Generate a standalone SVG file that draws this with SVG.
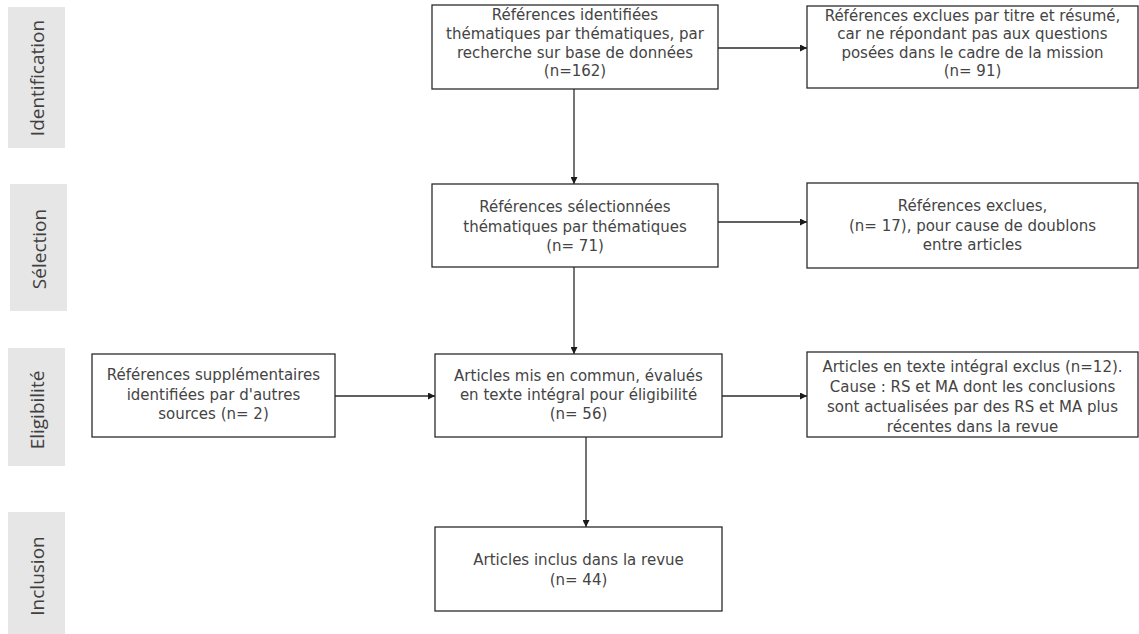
<svg xmlns="http://www.w3.org/2000/svg" width="1139" height="634" viewBox="0 0 1139 634">
<style>
.band{fill:#e6e6e6}
.bandtxt{font-family:"Open Sans","Noto Sans",sans-serif;font-size:19px;fill:#404040;text-anchor:middle}
.box{fill:#fff;stroke:#2b2b2b;stroke-width:1.3}
.t{font-family:"DejaVu Sans","Open Sans",sans-serif;font-size:15px;fill:#444444;text-anchor:middle}
.c{stroke:#2b2b2b;stroke-width:1.3;fill:none;marker-end:url(#ah)}
</style>
<defs>
<marker id="ah" viewBox="0 0 10 10" refX="10" refY="5" markerWidth="7" markerHeight="7" markerUnits="userSpaceOnUse" orient="auto">
<path d="M0,0 L10,5 L0,10 z" fill="#1a1a1a"/>
</marker>
</defs>
<rect width="1139" height="634" fill="#fff"/>
<g id="phase-identification">
<rect class="band" x="8" y="7" width="57" height="141"/>
<text class="bandtxt" transform="translate(37,78) rotate(-90)" dy="0.35em">Identification</text>
</g>
<g id="phase-selection">
<rect class="band" x="10" y="184" width="57" height="127"/>
<text class="bandtxt" transform="translate(39,249) rotate(-90)" dy="0.35em">Sélection</text>
</g>
<g id="phase-eligibilite">
<rect class="band" x="8" y="348" width="57" height="118"/>
<text class="bandtxt" transform="translate(37,410) rotate(-90)" dy="0.35em">Eligibilité</text>
</g>
<g id="phase-inclusion">
<rect class="band" x="8" y="512" width="57" height="122"/>
<text class="bandtxt" transform="translate(37,576) rotate(-90)" dy="0.35em">Inclusion</text>
</g>
<g id="connectors">
<line class="c" x1="718" y1="48" x2="807" y2="48"/>
<line class="c" x1="574" y1="89" x2="574" y2="184"/>
<line class="c" x1="718" y1="222" x2="807" y2="222"/>
<line class="c" x1="574" y1="267" x2="574" y2="354"/>
<line class="c" x1="335" y1="396" x2="435" y2="396"/>
<line class="c" x1="722" y1="396" x2="807" y2="396"/>
<line class="c" x1="586" y1="437" x2="586" y2="527"/>
</g>
<g id="n1">
<rect class="box" x="432" y="5" width="286" height="84"/>
<text class="t" x="575" y="20">Références identifiées</text>
<text class="t" x="575" y="39">thématiques par thématiques, par</text>
<text class="t" x="575" y="58">recherche sur base de données</text>
<text class="t" x="575" y="76">(n=162)</text>
</g>
<g id="n2">
<rect class="box" x="807" y="6" width="331" height="82"/>
<text class="t" x="972.5" y="21">Références exclues par titre et résumé,</text>
<text class="t" x="972.5" y="39">car ne répondant pas aux questions</text>
<text class="t" x="972.5" y="58">posées dans le cadre de la mission</text>
<text class="t" x="972.5" y="76">(n= 91)</text>
</g>
<g id="n3">
<rect class="box" x="432" y="184" width="286" height="83"/>
<text class="t" x="575" y="212">Références sélectionnées</text>
<text class="t" x="575" y="231.5">thématiques par thématiques</text>
<text class="t" x="575" y="251">(n= 71)</text>
</g>
<g id="n4">
<rect class="box" x="807" y="183" width="331" height="85"/>
<text class="t" x="972.5" y="211">Références exclues,</text>
<text class="t" x="972.5" y="230.5">(n= 17), pour cause de doublons</text>
<text class="t" x="972.5" y="250">entre articles</text>
</g>
<g id="n5">
<rect class="box" x="92" y="354" width="243" height="83"/>
<text class="t" x="213.5" y="380">Références supplémentaires</text>
<text class="t" x="213.5" y="400">identifiées par d'autres</text>
<text class="t" x="213.5" y="419">sources (n= 2)</text>
</g>
<g id="n6">
<rect class="box" x="435" y="354" width="287" height="83"/>
<text class="t" x="578.5" y="381">Articles mis en commun, évalués</text>
<text class="t" x="578.5" y="400">en texte intégral pour éligibilité</text>
<text class="t" x="578.5" y="419">(n= 56)</text>
</g>
<g id="n7">
<rect class="box" x="807" y="352" width="331" height="85"/>
<text class="t" x="972.5" y="372">Articles en texte intégral exclus (n=12).</text>
<text class="t" x="972.5" y="392">Cause : RS et MA dont les conclusions</text>
<text class="t" x="972.5" y="412">sont actualisées par des RS et MA plus</text>
<text class="t" x="972.5" y="432">récentes dans la revue</text>
</g>
<g id="n8">
<rect class="box" x="435" y="527" width="287" height="84"/>
<text class="t" x="578.5" y="565">Articles inclus dans la revue</text>
<text class="t" x="578.5" y="585">(n= 44)</text>
</g>
</svg>
